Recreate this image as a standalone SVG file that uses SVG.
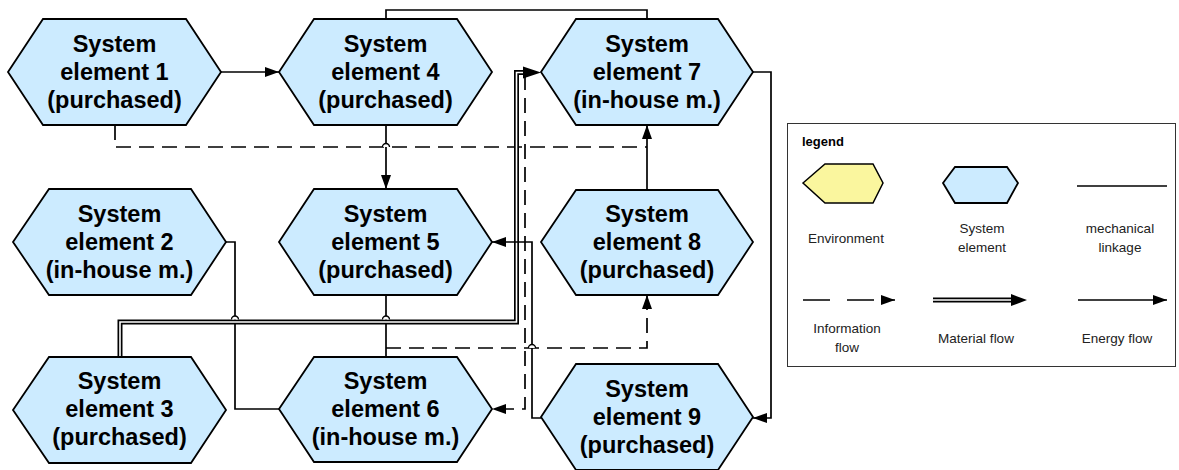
<svg xmlns="http://www.w3.org/2000/svg" width="1179" height="470" viewBox="0 0 1179 470">
<style>
.hex{fill:#CCEBFF;stroke:#000;stroke-width:1.8}
.env{fill:#FAF69E;stroke:#000;stroke-width:1.5}
.lbl{font-family:"Liberation Sans",Arial,sans-serif;font-weight:bold;font-size:23.5px;text-anchor:middle;fill:#000}
.leg{font-family:"Liberation Sans",Arial,sans-serif;font-size:13.5px;text-anchor:middle;fill:#222}
.legt{font-family:"Liberation Sans",Arial,sans-serif;font-size:13px;font-weight:bold;fill:#000}
.ln{fill:none;stroke:#000;stroke-width:1.7}
.dash{fill:none;stroke:#000;stroke-width:1.7;stroke-dasharray:15 8}
.ldash{fill:none;stroke:#000;stroke-width:1.7;stroke-dasharray:27 17}
.dbl{fill:none;stroke:#000;stroke-width:5}
.dblw{fill:none;stroke:#fff;stroke-width:1.6}
.hop{fill:#fff;stroke:#000;stroke-width:1.3}
</style>
<defs>
<marker id="arr" viewBox="0 0 14 10" refX="14" refY="5" markerWidth="14" markerHeight="10" orient="auto" markerUnits="userSpaceOnUse">
<path d="M0,0 L14,5 L0,10 Z" fill="#000"/>
</marker>
</defs>

<g id="connectors">
<path class="ln" d="M221,72 H279" marker-end="url(#arr)"/>
<path class="ln" d="M386,19 V10 H647 V19"/>
<path class="dash" d="M115,125 V147 H647"/>
<path class="ln" d="M647,190 V125" marker-end="url(#arr)"/>
<path class="ln" d="M386,125 V189" marker-end="url(#arr)"/>
<path class="ln" d="M386,295 V357"/>
<path class="dash" d="M386,348 H647 V295" marker-end="url(#arr)"/>
<path class="ln" d="M226,242 H235 V409 H279"/>
<path class="ln" d="M753,72 H771 V418 H753" marker-end="url(#arr)"/>
<path class="dbl" d="M120,357 V322 H516.5 V72.5 H525"/>
<path class="dblw" d="M120,357 V322 H516.5 V72.5 H525"/>
<path d="M523,66.5 L541,72.5 L523,78.5 Z" fill="#000"/>
<path class="ln" d="M541,418 H532 V242 H492" marker-end="url(#arr)"/>
<path class="dash" d="M525,75 V409 H492" marker-end="url(#arr)"/>
<path class="hop" d="M231.5,319.5 a3.5,3.5 0 0 1 7,0"/>
<path class="hop" d="M382.5,319.5 a3.5,3.5 0 0 1 7,0"/>
<path class="hop" d="M382.5,147 a3.5,3.5 0 0 1 7,0"/>
<path class="hop" d="M528.5,348 a3.5,3.5 0 0 1 7,0"/>
</g>

<g id="node1"><polygon class="hex" points="8,72 43,19 186,19 221,72 186,125 43,125"/>
<text class="lbl" x="114.5" y="52">System</text><text class="lbl" x="114.5" y="80">element 1</text><text class="lbl" x="114.5" y="108">(purchased)</text></g>
<g id="node4"><polygon class="hex" points="279,72 314,19 457,19 492,72 457,125 314,125"/>
<text class="lbl" x="385.5" y="52">System</text><text class="lbl" x="385.5" y="80">element 4</text><text class="lbl" x="385.5" y="108">(purchased)</text></g>
<g id="node7"><polygon class="hex" points="541,72 576,19 718,19 753,72 718,125 576,125"/>
<text class="lbl" x="647" y="52">System</text><text class="lbl" x="647" y="80">element 7</text><text class="lbl" x="647" y="108">(in-house m.)</text></g>
<g id="node2"><polygon class="hex" points="13,242 49,189 191,189 226,242 191,295 49,295"/>
<text class="lbl" x="119.5" y="222">System</text><text class="lbl" x="119.5" y="250">element 2</text><text class="lbl" x="119.5" y="278">(in-house m.)</text></g>
<g id="node5"><polygon class="hex" points="279,242 314,189 457,189 492,242 457,295 314,295"/>
<text class="lbl" x="385.5" y="222">System</text><text class="lbl" x="385.5" y="250">element 5</text><text class="lbl" x="385.5" y="278">(purchased)</text></g>
<g id="node8"><polygon class="hex" points="541,242 576,190 718,190 753,242 718,295 576,295"/>
<text class="lbl" x="647" y="222">System</text><text class="lbl" x="647" y="250">element 8</text><text class="lbl" x="647" y="278">(purchased)</text></g>
<g id="node3"><polygon class="hex" points="13,410 49,357 191,357 226,410 191,463 49,463"/>
<text class="lbl" x="119.5" y="389">System</text><text class="lbl" x="119.5" y="417">element 3</text><text class="lbl" x="119.5" y="445">(purchased)</text></g>
<g id="node6"><polygon class="hex" points="279,409 314,357 457,357 492,409 457,462 314,462"/>
<text class="lbl" x="385.5" y="389">System</text><text class="lbl" x="385.5" y="417">element 6</text><text class="lbl" x="385.5" y="445">(in-house m.)</text></g>
<g id="node9"><polygon class="hex" points="541,417 576,364 718,364 753,417 718,470 576,470"/>
<text class="lbl" x="647" y="397">System</text><text class="lbl" x="647" y="425">element 9</text><text class="lbl" x="647" y="453">(purchased)</text></g>

<g id="legend">
<rect x="787.5" y="123.5" width="388" height="243" fill="#fff" stroke="#333" stroke-width="1"/>
<text class="legt" x="802" y="146">legend</text>
<polygon class="env" points="803,183 825,164 873,164 883,183 873,203 825,203"/>
<polygon class="hex" stroke-width="1.5" points="943,183 955,167 1007,167 1018,183 1007,203 955,203"/>
<line class="ln" x1="1077" y1="186" x2="1167" y2="186"/>
<text class="leg" x="846" y="243">Environment</text>
<text class="leg" x="982" y="233">System</text><text class="leg" x="982" y="252">element</text>
<text class="leg" x="1120" y="233">mechanical</text><text class="leg" x="1120" y="252">linkage</text>
<path class="ldash" d="M803,300 H895" marker-end="url(#arr)"/>
<path class="dbl" d="M933,300 H1013" stroke-width="4.5"/>
<path class="dblw" d="M933,300 H1013"/>
<path d="M1011,294 L1027,300 L1011,306 Z" fill="#000"/>
<path class="ln" d="M1078,300 H1167" marker-end="url(#arr)"/>
<text class="leg" x="847" y="333">Information</text><text class="leg" x="847" y="352">flow</text>
<text class="leg" x="976" y="343">Material flow</text>
<text class="leg" x="1117" y="343">Energy flow</text>
</g>
</svg>
